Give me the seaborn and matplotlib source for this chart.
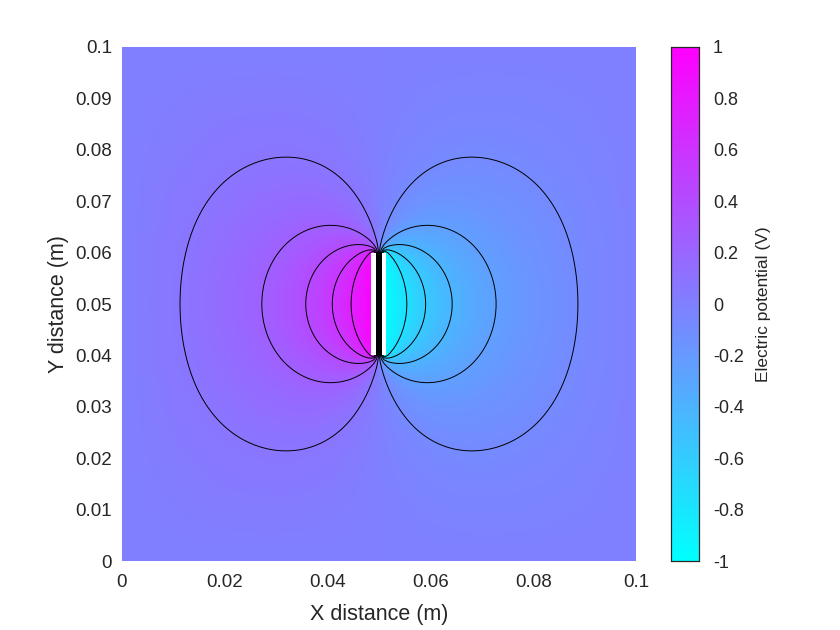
import numpy as np
import matplotlib
matplotlib.use("Agg")
import matplotlib.pyplot as plt
from matplotlib.patches import Rectangle
import seaborn as sns

# ---------------- data ----------------
domain = [0.0, 0.1]
grid_step = 0.0005
plate_x = [0.049, 0.051]          # plate positions (m)
plate_v = [1.0, -1.0]             # plate potentials (V)
plate_y = [0.04, 0.06]            # plate extent (m)
contour_levels = [-0.75, -0.5833, -0.4167, -0.25, -0.0833,
                  0.0833, 0.25, 0.4167, 0.5833, 0.75]
x_ticks = [0, 0.02, 0.04, 0.06, 0.08, 0.1]
x_tick_labels = ["0", "0.02", "0.04", "0.06", "0.08", "0.1"]
y_ticks = [0, 0.01, 0.02, 0.03, 0.04, 0.05, 0.06, 0.07, 0.08, 0.09, 0.1]
y_tick_labels = ["0", "0.01", "0.02", "0.03", "0.04", "0.05", "0.06", "0.07", "0.08", "0.09", "0.1"]
cbar_ticks = [-1, -0.8, -0.6, -0.4, -0.2, 0, 0.2, 0.4, 0.6, 0.8, 1]
cbar_tick_labels = ["-1", "-0.8", "-0.6", "-0.4", "-0.2", "0", "0.2", "0.4", "0.6", "0.8", "1"]

# ---------------- Laplace solve (grounded box, two plates) ----------------
N = int(round((domain[1] - domain[0]) / grid_step)) + 1
V = np.zeros((N, N))
fixed = np.zeros((N, N), dtype=bool)
fixed[0, :] = fixed[-1, :] = fixed[:, 0] = fixed[:, -1] = True
j0 = int(round(plate_y[0] / grid_step))
j1 = int(round(plate_y[1] / grid_step))
for px, pv in zip(plate_x, plate_v):
    i = int(round(px / grid_step))
    V[j0:j1 + 1, i] = pv
    fixed[j0:j1 + 1, i] = True
jj, ii = np.mgrid[1:N - 1, 1:N - 1]
free = ~fixed[1:-1, 1:-1]
masks = [((ii + jj) % 2 == c) & free for c in (0, 1)]
w = 2.0 / (1.0 + np.sin(np.pi / (N - 1)))
for _ in range(1500):
    for m in masks:
        avg = 0.25 * (V[:-2, 1:-1] + V[2:, 1:-1] + V[1:-1, :-2] + V[1:-1, 2:])
        inner = V[1:-1, 1:-1]
        inner[m] = (1 - w) * inner[m] + w * avg[m]

# ---------------- plot ----------------
sns.set_theme(style="white")
plt.rcParams["font.family"] = ["Liberation Sans", "DejaVu Sans"]
plt.rcParams["axes.unicode_minus"] = False
txt = "#262626"

fig = plt.figure(figsize=(8.4, 6.3), dpi=100)
ax = fig.add_axes([0.1452, 0.1095, 0.6119, 0.8159])
cax = fig.add_axes([0.7988, 0.1095, 0.0333, 0.8159])

sns.heatmap(V, ax=ax, cbar_ax=cax, cmap="cool", vmin=-1, vmax=1,
            xticklabels=False, yticklabels=False, rasterized=True,
            cbar_kws={"ticks": cbar_ticks})

def to_idx(v):
    return (v - domain[0]) / grid_step + 0.5

ax.set_xlim(to_idx(domain[0]), to_idx(domain[1]))
ax.set_ylim(to_idx(domain[0]), to_idx(domain[1]))

gx = np.arange(N) + 0.5
ax.contour(gx, gx, V, levels=contour_levels, colors="black",
           linewidths=0.7, linestyles="solid")

# plates
ax.add_patch(Rectangle((to_idx(0.0484), to_idx(plate_y[0])),
                       (0.0514 - 0.0484) / grid_step, (plate_y[1] - plate_y[0]) / grid_step,
                       facecolor="white", edgecolor="none", zorder=5))
ax.add_patch(Rectangle((to_idx(0.0494), to_idx(plate_y[0])),
                       (0.0506 - 0.0494) / grid_step, (plate_y[1] - plate_y[0]) / grid_step,
                       facecolor="black", edgecolor="none", zorder=6))

ax.set_xticks([to_idx(t) for t in x_ticks])
ax.set_xticklabels(x_tick_labels, rotation=0)
ax.set_yticks([to_idx(t) for t in y_ticks])
ax.set_yticklabels(y_tick_labels, rotation=0)
ax.tick_params(axis="x", length=0, labelsize=13.5, colors=txt, pad=9)
ax.tick_params(axis="y", length=0, labelsize=13.5, colors=txt, pad=7)
for s in ax.spines.values():
    s.set_visible(False)
ax.set_xlabel("X distance (m)", fontsize=15.5, color=txt, labelpad=9.5)
ax.set_ylabel("Y distance (m)", fontsize=15.5, color=txt, labelpad=5)

cax.set_yticks(cbar_ticks)
cax.set_yticklabels(cbar_tick_labels)
cax.tick_params(axis="y", direction="in", length=4, width=0.6, labelsize=13, colors=txt, pad=10, right=True, left=False)
for s in cax.spines.values():
    s.set_visible(True)
    s.set_color("#262626")
    s.set_linewidth(0.8)
cax.set_ylabel("Electric potential (V)", fontsize=12.5, color=txt, labelpad=9)
cax.yaxis.set_label_position("right")

fig.savefig("out.png", dpi=100)
